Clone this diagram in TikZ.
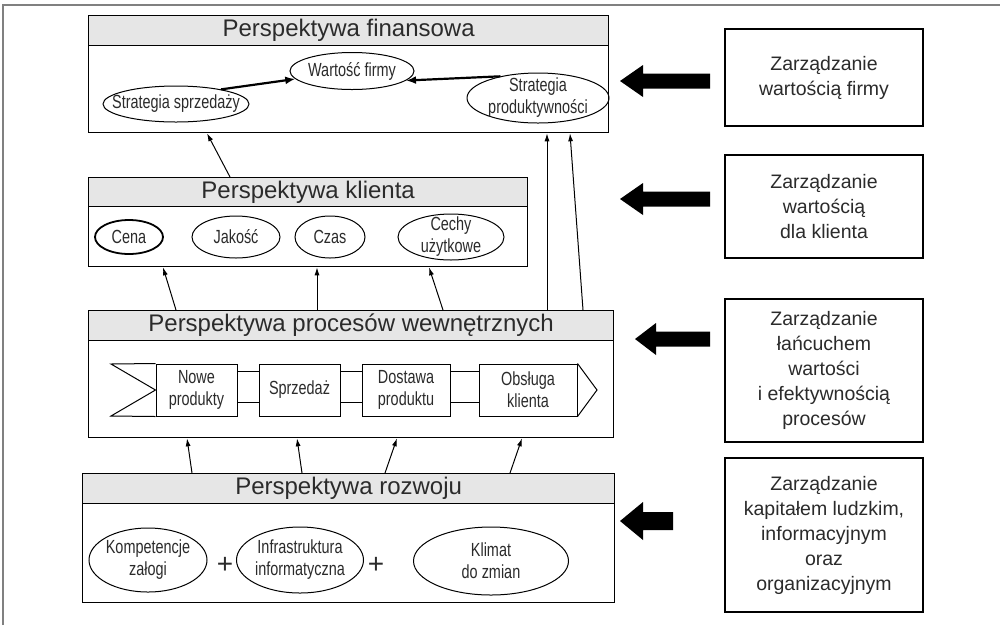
\documentclass[tikz,border=0pt]{standalone}
\usepackage{fontspec}
\setmainfont{Liberation Sans}
\newfontfamily\narrowfont[FakeStretch=0.76]{Liberation Sans}
\usetikzlibrary{shapes.geometric,arrows.meta}
\definecolor{hdrgray}{HTML}{E6E6E6}
\definecolor{txtgray}{HTML}{2B2B2B}
\definecolor{framegray}{HTML}{808080}
\newcommand\BigArrow[6]{% tip x, head base x, tail x, centre y, head half, shaft half
  \fill[black] (#1,#4) -- (#2,#4-#5) -- (#2,#4-#6) -- (#3,#4-#6) -- (#3,#4+#6) -- (#2,#4+#6) -- (#2,#4+#5) -- cycle;}
\begin{document}
\begin{tikzpicture}[x=1pt,y=-1pt,
  box/.style={draw=black, line width=1.3pt, anchor=north west, inner sep=0pt, fill=white},
  hdr/.style={draw=black, line width=1.3pt, fill=hdrgray, anchor=north west, inner sep=0pt,
              font=\fontsize{24}{28}\selectfont, text=txtgray},
  ell/.style={draw=black, ellipse, line width=1pt, inner sep=0pt},
  etext/.style={font=\narrowfont\fontsize{19}{22}\selectfont, align=center, text=txtgray, inner sep=0pt},
  pbox/.style={draw=black, line width=1pt, inner sep=0pt, minimum height=52pt, align=center,
               font=\narrowfont\fontsize{19}{22}\selectfont, text=txtgray},
  rbox/.style={draw=black, line width=1.3pt, inner sep=0pt, align=center, minimum width=198pt,
               font=\fontsize{19.5}{25}\selectfont, text=txtgray},
  arr/.style={-{Latex[length=8pt,width=5pt]}, line width=1pt},
  tarr/.style={-{Latex[length=10pt,width=8pt]}, line width=2.2pt},
  plus/.style={font=\fontsize{28}{28}\selectfont, text=txtgray, inner sep=0pt}]
\useasboundingbox (0,0) rectangle (1000,625);
\fill[white] (0,0) rectangle (1000,625);
% outer frame
\coordinate (fr1) at (3,625); \coordinate (fr2) at (3,5); \coordinate (fr3) at (1000,5);
\draw[framegray, line width=1.5pt] (fr1) -- (fr2) -- (fr3);

% ---- Perspektywa finansowa
\node[box, minimum width=520pt, minimum height=117pt] (b1) at (88,15) {};
\node[hdr, minimum width=520pt, minimum height=30pt] (h1) at (88,15) {Perspektywa finansowa};
\node[ell, minimum width=124pt, minimum height=37pt] (wf) at (352,71) {};
\node[etext] (wf-t) at (wf) {Wartość firmy};
\node[ell, minimum width=146pt, minimum height=36pt] (ss) at (176,104) {};
\node[etext] (ss-t) at (ss) {Strategia sprzedaży};
\node[ell, minimum width=142pt, minimum height=50pt] (sp) at (538,98) {};
\node[etext] (sp-t) at (sp) {Strategia\\produktywności};
\draw[tarr] (ss.18) -- (wf.188);
\draw[tarr] (sp.150) -- (wf.-10);

% ---- Perspektywa klienta
\node[box, minimum width=439pt, minimum height=89pt] (b2) at (88,177) {};
\node[hdr, minimum width=439pt, minimum height=29pt] (h2) at (88,177) {Perspektywa klienta};
\node[ell, line width=1.8pt, minimum width=68pt, minimum height=34pt] (cena) at (129,237) {};
\node[etext] (cena-t) at (cena) {Cena};
\node[ell, minimum width=88pt, minimum height=42pt] (jak) at (236,237) {};
\node[etext] (jak-t) at (jak) {Jakość};
\node[ell, minimum width=70pt, minimum height=42pt] (czas) at (330,237) {};
\node[etext] (czas-t) at (czas) {Czas};
\node[ell, minimum width=106pt, minimum height=46pt] (cech) at (451,237) {};
\node[etext] (cech-t) at (cech) {Cechy\\użytkowe};

% ---- Perspektywa procesów wewnętrznych
\node[box, minimum width=525pt, minimum height=127pt] (b3) at (88,310) {};
\node[hdr, minimum width=525pt, minimum height=30pt] (h3) at (88,310) {Perspektywa procesów wewnętrznych};
\node[pbox, minimum width=81pt] (np) at (196.5,390) {Nowe\\produkty};
\node[pbox, minimum width=81pt] (sz) at (299.5,390) {Sprzedaż};
\node[pbox, minimum width=88pt] (dp) at (406,390) {Dostawa\\produktu};
\node[pbox, minimum width=98pt] (ob) at (528,390) {Obsługa\\klienta};
\coordinate (tailtop) at (111,364); \coordinate (tailbot) at (111,416); \coordinate (tip) at (597,390);
\draw[line width=1pt] (np.north west) -- (tailtop) -- (np.west) -- (tailbot) -- (np.south west);
\draw[line width=1pt] (ob.north east) -- (tip) -- (ob.south east);
\foreach \a/\b in {np/sz, sz/dp, dp/ob} {
  \draw[line width=1pt] ([yshift=19pt]\a.east) -- ([yshift=19pt]\b.west);
  \draw[line width=1pt] ([yshift=-12pt]\a.east) -- ([yshift=-12pt]\b.west);
}

% ---- Perspektywa rozwoju
\node[box, minimum width=532pt, minimum height=129pt] (b4) at (82,473) {};
\node[hdr, minimum width=532pt, minimum height=30pt] (h4) at (82,473) {Perspektywa rozwoju};
\node[ell, minimum width=118pt, minimum height=64pt] (komp) at (148,560) {};
\node[etext] (komp-t) at (komp) {Kompetencje\\załogi};
\node[ell, minimum width=127pt, minimum height=66pt] (infra) at (300,560) {};
\node[etext] (infra-t) at (infra) {Infrastruktura\\informatyczna};
\node[ell, minimum width=155pt, minimum height=68pt] (klim) at (491,561) {};
\node[etext] (klim-t) at (klim) {Klimat\\do zmian};
\node[plus] (plus1) at (225,565) {+};
\node[plus] (plus2) at (376,565) {+};

% ---- thin arrows between perspectives
\draw[arr] ([xshift=142pt]h2.north west) -- ([xshift=119pt]b1.south west);
\draw[arr] ([xshift=88pt]h3.north west) -- ([xshift=75pt]b2.south west);
\draw[arr] ([xshift=229pt]h3.north west) -- ([xshift=229pt]b2.south west);
\draw[arr] ([xshift=355pt]h3.north west) -- ([xshift=341pt]b2.south west);
\draw[arr] ([xshift=459pt]h3.north west) -- ([xshift=459pt]b1.south west);
\draw[arr] ([xshift=495pt]h3.north west) -- ([xshift=482pt]b1.south west);
\draw[arr] ([xshift=110pt]h4.north west) -- ([xshift=99pt]b3.south west);
\draw[arr] ([xshift=220pt]h4.north west) -- ([xshift=209pt]b3.south west);
\draw[arr] ([xshift=303pt]h4.north west) -- ([xshift=309pt]b3.south west);
\draw[arr] ([xshift=428pt]h4.north west) -- ([xshift=434pt]b3.south west);

% ---- right-hand management boxes
\node[rbox, minimum height=97pt]  (r1) at (824,77.5) {Zarządzanie\\wartością firmy};
\node[rbox, minimum height=103pt] (r2) at (824,206.5) {Zarządzanie\\wartością\\dla klienta};
\node[rbox, minimum height=143pt] (r3) at (824,370.5) {Zarządzanie\\łańcuchem\\wartości\\i efektywnością\\procesów};
\node[rbox, minimum height=154pt] (r4) at (824,535) {Zarządzanie\\kapitałem ludzkim,\\informacyjnym\\oraz\\organizacyjnym};

% ---- big black arrows
\BigArrow{620}{643}{710}{81}{16}{7.5}
\BigArrow{620}{643}{710}{199}{16}{7.5}
\BigArrow{635}{656}{710}{339}{16}{7.5}
\BigArrow{620}{643}{673}{521}{19}{9}
\end{tikzpicture}
\end{document}
